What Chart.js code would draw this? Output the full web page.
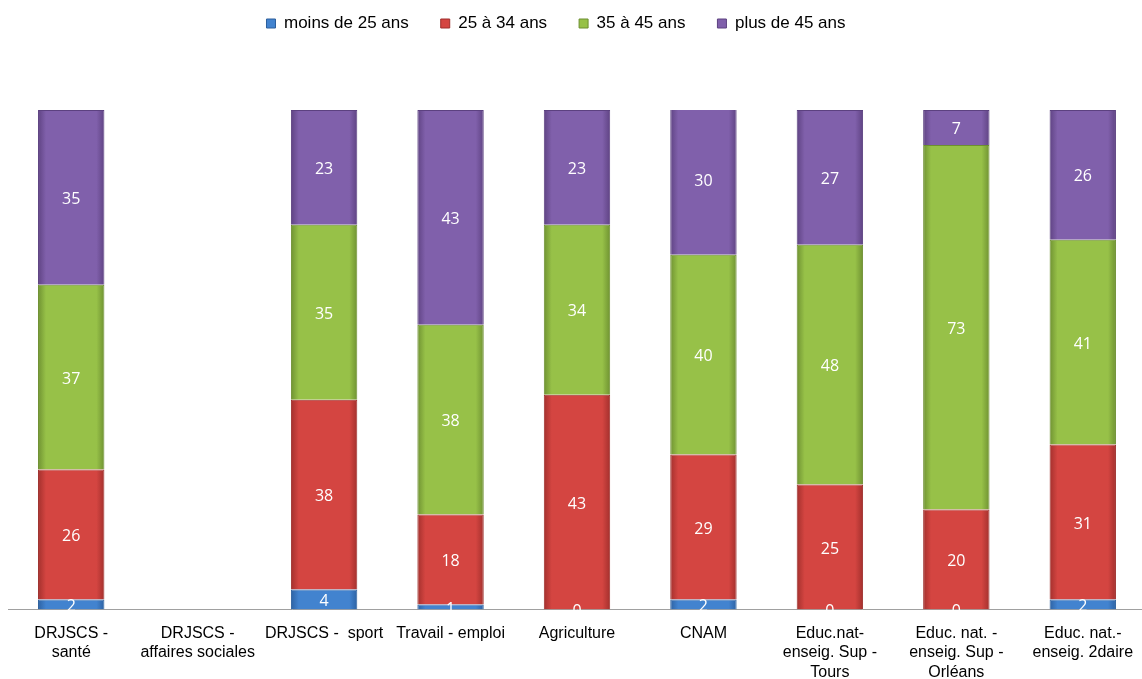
<!DOCTYPE html>
<html lang="fr">
<head>
    <meta charset="UTF-8">
    <title>Répartition par âge</title>
    <style>
        html, body { margin: 0; padding: 0; background: #fff; overflow: hidden; }
        #wrap { width: 1146px; height: 679px; }
    </style>
    <script src="https://cdn.jsdelivr.net/npm/chart.js@4"></script>
</head>
<body>
    <div id="wrap"><canvas id="myChart"></canvas></div>
    <script>
        // data (percentages)
        var categories = [
            ["DRJSCS -", "santé"],
            ["DRJSCS -", "affaires sociales"],
            "DRJSCS -  sport",
            "Travail - emploi",
            "Agriculture",
            "CNAM",
            ["Educ.nat-", "enseig. Sup -", "Tours"],
            ["Educ. nat. -", "enseig. Sup -", "Orléans"],
            ["Educ. nat.-", "enseig. 2daire"]
        ];
        var moins25 = [2, null, 4, 1, 0, 2, 0, 0, 2];
        var de25a34 = [26, null, 38, 18, 43, 29, 25, 20, 31];
        var de35a45 = [37, null, 35, 38, 34, 40, 48, 73, 41];
        var plus45 = [35, null, 23, 43, 23, 30, 27, 7, 26];

        // shaded fill: darker at the bar edges, like the office bevel look
        function bevel(main, edge) {
            return function (c) {
                var chart = c.chart;
                var xs = chart.scales.x;
                if (!chart.chartArea || !xs || c.dataIndex === undefined) return main;
                var x = xs.getPixelForValue(c.dataIndex);
                var half = xs.width / categories.length * 0.525 / 2;
                var g = chart.ctx.createLinearGradient(x - half, 0, x + half, 0);
                g.addColorStop(0, edge);
                g.addColorStop(0.12, main);
                g.addColorStop(0.88, main);
                g.addColorStop(1, edge);
                return g;
            };
        }

        // white value labels in the middle of every segment
        var valueLabels = {
            id: 'valueLabels',
            afterDatasetsDraw: function (chart) {
                var ctx = chart.ctx;
                ctx.save();
                ctx.font = '16px "Open Sans", sans-serif';
                ctx.fillStyle = '#ffffff';
                ctx.textAlign = 'center';
                ctx.textBaseline = 'middle';
                chart.data.datasets.forEach(function (ds, i) {
                    chart.getDatasetMeta(i).data.forEach(function (bar, j) {
                        var v = ds.data[j];
                        if (v === null || v === undefined) return;
                        var y = (bar.y + bar.base) / 2;
                        ctx.fillText(v, bar.x, y + 2);
                    });
                });
                ctx.restore();
            }
        };

        // push the plot down below the legend, nudge legend up and left
        var legendGap = {
            id: 'legendGap',
            beforeInit: function (chart) {
                var fit = chart.legend.fit;
                chart.legend.fit = function () {
                    fit.bind(chart.legend)();
                    this.height += 47;
                };
            },
            afterLayout: function (chart) {
                chart.legend.right -= 42;
                chart.legend.top -= 21;
            }
        };

        var ctx = document.getElementById("myChart").getContext('2d');
        var myChart = new Chart(ctx, {
            type: 'bar',
            data: {
                labels: categories,
                datasets: [{
                    label: 'moins de 25 ans',
                    data: moins25,
                    backgroundColor: bevel('#4283cf', '#2d62a3'),
                    borderColor: '#2c5f9c',
                    borderWidth: 1
                }, {
                    label: '25 à 34 ans',
                    data: de25a34,
                    backgroundColor: bevel('#d44541', '#a3302d'),
                    borderColor: '#9e2f2c',
                    borderWidth: 1
                }, {
                    label: '35 à 45 ans',
                    data: de35a45,
                    backgroundColor: bevel('#97c148', '#6f9232'),
                    borderColor: '#6d8f30',
                    borderWidth: 1
                }, {
                    label: 'plus de 45 ans',
                    data: plus45,
                    backgroundColor: bevel('#8060ab', '#5f4383'),
                    borderColor: '#5c4180',
                    borderWidth: 1
                }]
            },
            options: {
                responsive: true,
                maintainAspectRatio: false,
                animation: false,
                layout: {
                    padding: { left: 8, right: 0, top: 4, bottom: -3 }
                },
                datasets: {
                    bar: {
                        categoryPercentage: 1,
                        barPercentage: 0.525
                    }
                },
                plugins: {
                    legend: {
                        display: true,
                        labels: {
                            boxWidth: 9,
                            boxHeight: 9,
                            padding: 32,
                            color: '#000',
                            font: { family: '"Liberation Sans", Arial, sans-serif', size: 17 },
                            generateLabels: function (chart) {
                                var items = Chart.defaults.plugins.legend.labels.generateLabels(chart);
                                var solid = ['#4283cf', '#d44541', '#97c148', '#8060ab'];
                                items.forEach(function (it, i) { it.fillStyle = solid[i]; });
                                return items;
                            }
                        }
                    },
                    title: { display: false },
                    tooltip: { enabled: false }
                },
                scales: {
                    x: {
                        stacked: true,
                        grid: { display: false, drawTicks: true, tickLength: 14 },
                        border: { color: '#a0a0a0', width: 1 },
                        ticks: {
                            color: '#000',
                            autoSkip: false,
                            maxRotation: 0,
                            padding: 0,
                            font: { family: '"Liberation Sans", Arial, sans-serif', size: 16, lineHeight: 1.22 }
                        }
                    },
                    y: {
                        stacked: true,
                        display: false,
                        min: 0,
                        max: 100
                    }
                }
            },
            plugins: [valueLabels, legendGap]
        });
    </script>
</body>
</html>
